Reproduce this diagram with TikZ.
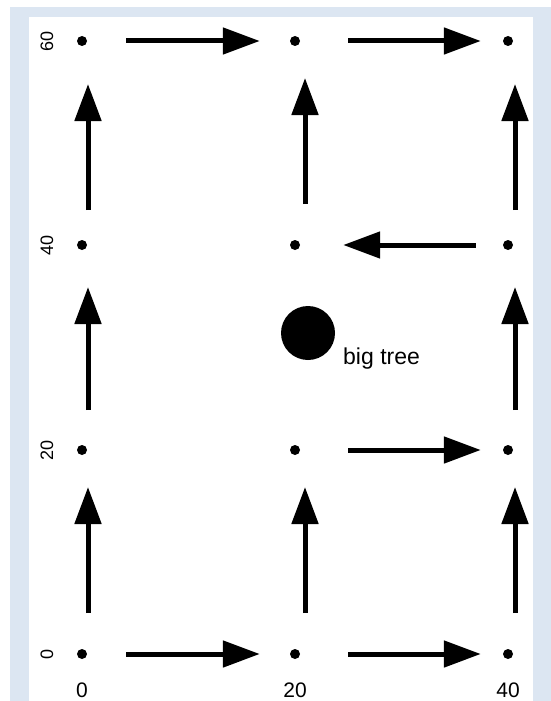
\documentclass[tikz,border=0pt]{standalone}
\usepackage{fontspec}
\setmainfont{Liberation Sans}
\usetikzlibrary{arrows.meta}
\definecolor{frameblue}{RGB}{220,230,242}

\tikzset{
  dot/.style={circle, fill=black, inner sep=0pt, minimum size=10pt},
  arr/.style={->, line width=5pt},
  lab/.style={inner sep=0pt, font=\fontsize{21}{25}\selectfont},
  ylab/.style={inner sep=0pt, rotate=90, font=\fontsize{18}{22}\selectfont}
}

\begin{document}
\begin{tikzpicture}[x=1pt, y=-1pt, >={Triangle[length=37pt,width=26pt]}]

  % frame
  \useasboundingbox (0,0) rectangle (551,701);
  \fill[frameblue] (10,7) rectangle (551,701);
  \fill[white] (29,17) rectangle (533,701);

  % grid points
  \foreach \i/\x in {0/82,20/295,40/508}
    \foreach \j/\y in {0/654,20/450,40/245,60/41}
      \node[dot] (p\i-\j) at (\x,\y) {};

  % axis labels
  \node[lab] (x0) at (82,690) {0};
  \node[lab] (x20) at (295,690) {20};
  \node[lab] (x40) at (508,690) {40};
  \node[ylab] (y0) at (47,654) {0};
  \node[ylab] (y20) at (47,450) {20};
  \node[ylab] (y40) at (47,245) {40};
  \node[ylab] (y60) at (47,41) {60};

  % the tree
  \node[circle, fill=black, inner sep=0pt, minimum size=54pt] (tree) at (308,333) {};
  \node[lab, anchor=base west, font=\fontsize{23}{27}\selectfont] (treelab) at (343,364) {big tree};

  % moves along the rows
  \draw[arr, shorten <=39pt, shorten >=30pt] (p0-0) -- (p20-0);
  \draw[arr, shorten <=48pt, shorten >=22pt] (p20-0) -- (p40-0);
  \draw[arr, shorten <=39pt, shorten >=30pt] (p0-60) -- (p20-60);
  \draw[arr, shorten <=48pt, shorten >=22pt] (p20-60) -- (p40-60);
  \draw[arr, shorten <=48pt, shorten >=22pt] (p20-20) -- (p40-20);
  \draw[arr, shorten <=27pt, shorten >=43pt] (p40-40) -- (p20-40);

  % moves up the columns
  \foreach \i/\s in {0/6,40/7}
  {
    \draw[arr, shorten <=41pt, shorten >=37pt] ([xshift=\s pt]p\i-0.center) -- ([xshift=\s pt]p\i-20.center);
    \draw[arr, shorten <=40pt, shorten >=42pt] ([xshift=\s pt]p\i-20.center) -- ([xshift=\s pt]p\i-40.center);
    \draw[arr, shorten <=35pt, shorten >=43pt] ([xshift=\s pt]p\i-40.center) -- ([xshift=\s pt]p\i-60.center);
  }
  \draw[arr, shorten <=41pt, shorten >=37pt] ([xshift=10pt]p20-0.center) -- ([xshift=10pt]p20-20.center);
  \draw[arr, shorten <=41pt, shorten >=37pt] ([xshift=10pt]p20-40.center) -- ([xshift=10pt]p20-60.center);

\end{tikzpicture}
\end{document}
